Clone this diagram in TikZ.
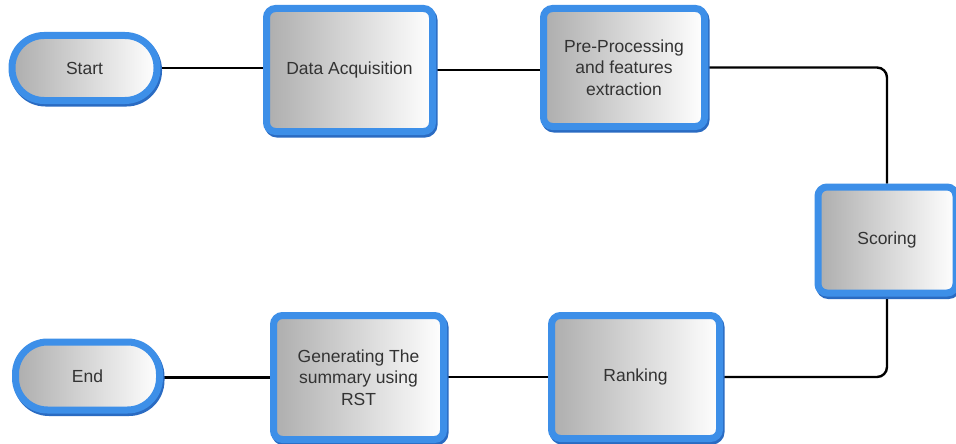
\documentclass[tikz,border=0pt]{standalone}
\usepackage{fontspec}
\setmainfont{Liberation Sans}
\usetikzlibrary{shadows,backgrounds}
\definecolor{bblue}{HTML}{3D8FE8}
\definecolor{dblue}{HTML}{2A6BC2}
\definecolor{txt}{HTML}{333333}
\tikzset{
  procbox/.style={draw=bblue, line width=7pt, rounded corners=9pt,
    left color=black!32, right color=white, text=txt,
    font=\fontsize{17.5}{21.5}\selectfont, align=center, inner sep=0pt,
    drop shadow={shadow xshift=1.5pt, shadow yshift=-2.5pt, fill=dblue, draw=dblue, line width=7pt, opacity=1}},
  termbox/.style={procbox, rounded corners=32pt},
  conn/.style={draw=black, line width=2.4pt, rounded corners=10pt},
}
\begin{document}
\begin{tikzpicture}[x=1pt,y=-1pt]
\useasboundingbox (0,0) rectangle (956,444);
\node[termbox, minimum width=145pt, minimum height=65pt] (start) at (84.5,68) {Start};
\node[procbox, minimum width=166pt, minimum height=123pt] (da) at (349.5,70) {Data Acquisition};
\node[procbox, minimum width=161pt, minimum height=118pt] (pp) at (624,67.5) {Pre-Processing\\and features\\extraction};
\node[procbox, minimum width=138pt, minimum height=106pt] (sc) at (887,240) {Scoring};
\node[procbox, minimum width=168pt, minimum height=123pt] (rk) at (635.5,377) {Ranking};
\node[procbox, minimum width=170pt, minimum height=124pt] (gen) at (358.5,377.5) {Generating The\\summary using\\RST};
\node[termbox, minimum width=144pt, minimum height=68pt] (end) at (87.5,376) {End};
\begin{scope}[on background layer]
\fill[white] (0,0) rectangle (956,444);
\draw[conn] (start.east) -- (start.east -| da.west);
\draw[conn] (da.east) -- (da.east -| pp.west);
\draw[conn] (pp.east) -- (sc.north |- pp.east) -- (sc.north);
\draw[conn] (sc.south) -- (sc.south |- rk.east) -- (rk.east);
\draw[conn] (rk.west) -- (rk.west -| gen.east);
\draw[conn] (gen.west) -- (gen.west -| end.east);
\end{scope}
\end{tikzpicture}
\end{document}
